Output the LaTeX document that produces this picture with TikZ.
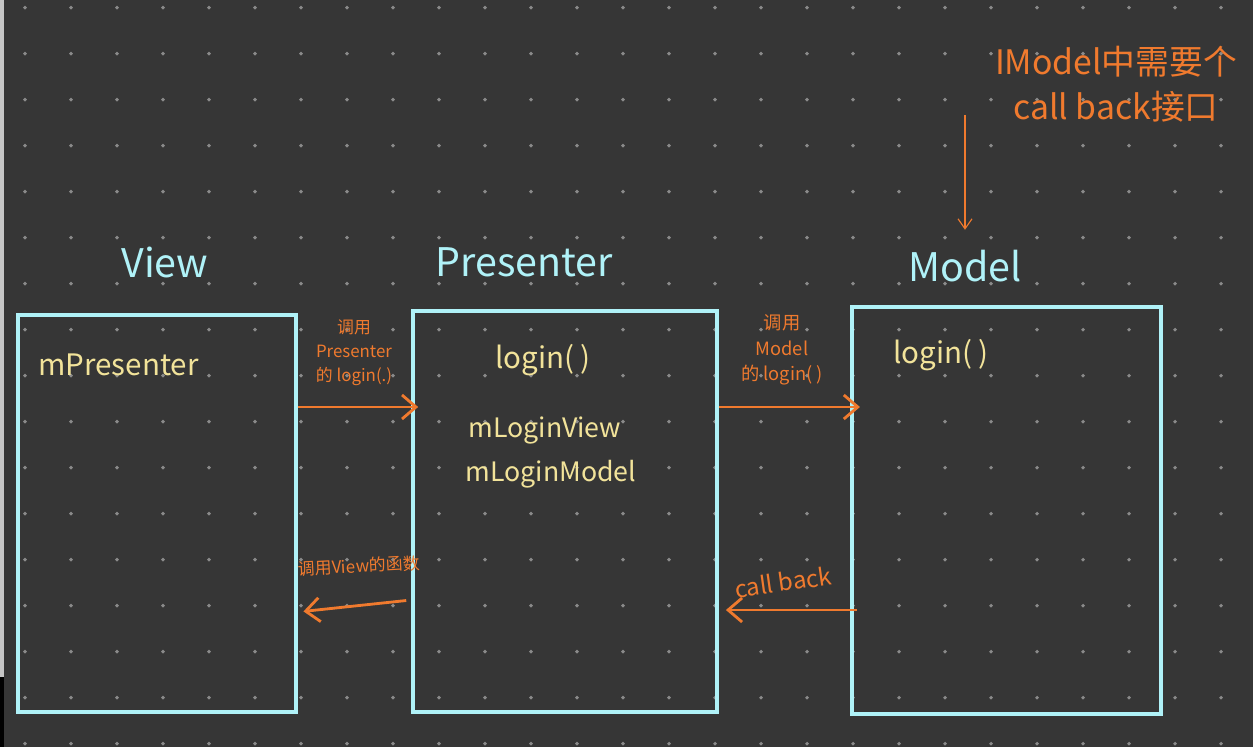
\documentclass[tikz,border=0pt]{standalone}
\usepackage{fontspec}
\setmainfont{Noto Sans CJK SC}
\usetikzlibrary{arrows.meta,positioning}
\definecolor{boarddark}{HTML}{363636}
\definecolor{gridgray}{HTML}{8A8A8A}
\definecolor{framecyan}{HTML}{B0F2F8}
\definecolor{penorange}{HTML}{F07A2E}
\definecolor{penyellow}{HTML}{F2E39A}

\begin{document}
\begin{tikzpicture}[
 x=0.025cm,y=-0.025cm,
 box/.style={draw=framecyan,line width=2.6pt},
 title/.style={text=framecyan,inner sep=0pt,font=\fontsize{28}{30}\selectfont},
 field/.style={text=penyellow,inner sep=0pt,font=\fontsize{19}{21}\selectfont},
 tag/.style={text=penorange,align=center,inner sep=0pt,font=\fontsize{12}{17}\selectfont},
 arr/.style={-{Straight Barb[length=3.5mm,width=6mm]},penorange,line width=2pt}
]
% board with dot grid
\useasboundingbox (0,0) rectangle (1253,747);
\fill[boarddark] (0,0) rectangle (1253,747);
\fill[gray!45] (0,0) rectangle (4,677);
\fill[black] (0,677) rectangle (4,747);
\foreach \i in {0,...,26}
  \foreach \j in {0,...,16}
    \fill[gridgray] (25+46*\i,7.7+46*\j) circle (1.4pt);

% the three parts
\node[box,minimum width=6.95cm,minimum height=9.925cm] (view) at (157,513.5) {};
\node[box,minimum width=7.6cm,minimum height=10.025cm] (presenter) at (565,511.5) {};
\node[box,minimum width=7.725cm,minimum height=10.175cm] (model) at (1006.5,510.5) {};
\node[title] (viewtitle) at (165,262) {View};
\node[title] (presentertitle) at (524,262) {Presenter};
\node[title] (modeltitle) at (965,266) {Model};

% members
\node[field,anchor=west,font=\fontsize{21}{23}\selectfont] (mpresenter) at (38,365) {mPresenter};
\node[field,font=\fontsize{21}{23}\selectfont] (plogin) at (543,360) {login( )};
\node[field] (mloginview) at (545,430) {mLoginView};
\node[field,below=4mm of mloginview,xshift=1.5mm] (mloginmodel) {mLoginModel};
\node[field,font=\fontsize{21}{23}\selectfont] (mlogin) at (941,355) {login( )};

% calls
\coordinate (callrow) at (0,407);
\coordinate (backrow) at (0,600);
\coordinate (backend) at (0,612);
\coordinate (cbrow) at (0,610);
\draw[arr,shorten >=-5pt] (view.east |- callrow) -- (presenter.west |- callrow);
\draw[arr,shorten >=-7pt] (presenter.east |- callrow) -- (model.west |- callrow);
\draw[arr,shorten <=3.5pt,shorten >=4pt] (presenter.west |- backrow) -- (view.east |- backend);
\draw[arr,shorten <=-5pt,shorten >=5pt] (model.west |- cbrow) -- (presenter.east |- cbrow);
\node[tag] (calllabel) at (354,353) {调用\\Presenter\\的 login(.)};
\node[tag,font=\fontsize{13}{18}\selectfont] (modellabel) at (782,350) {调用\\Model\\的 login( )};
\node[tag,rotate=3] (backlabel) at (359,566) {调用View的函数};
\node[tag,rotate=8,font=\fontsize{17}{19}\selectfont] (cblabel) at (783,582) {call back};

% remark on the model
\node[tag,font=\fontsize{24}{32}\selectfont] (remark) at (1116,84)
 {IModel中需要个\\call back接口};
\coordinate (remarktail) at (965,115);
\draw[-{Straight Barb[length=2.5mm,width=3.5mm]},penorange,line width=0.8pt]
 (remarktail) -- ([yshift=5mm]modeltitle.north);
\end{tikzpicture}
\end{document}
